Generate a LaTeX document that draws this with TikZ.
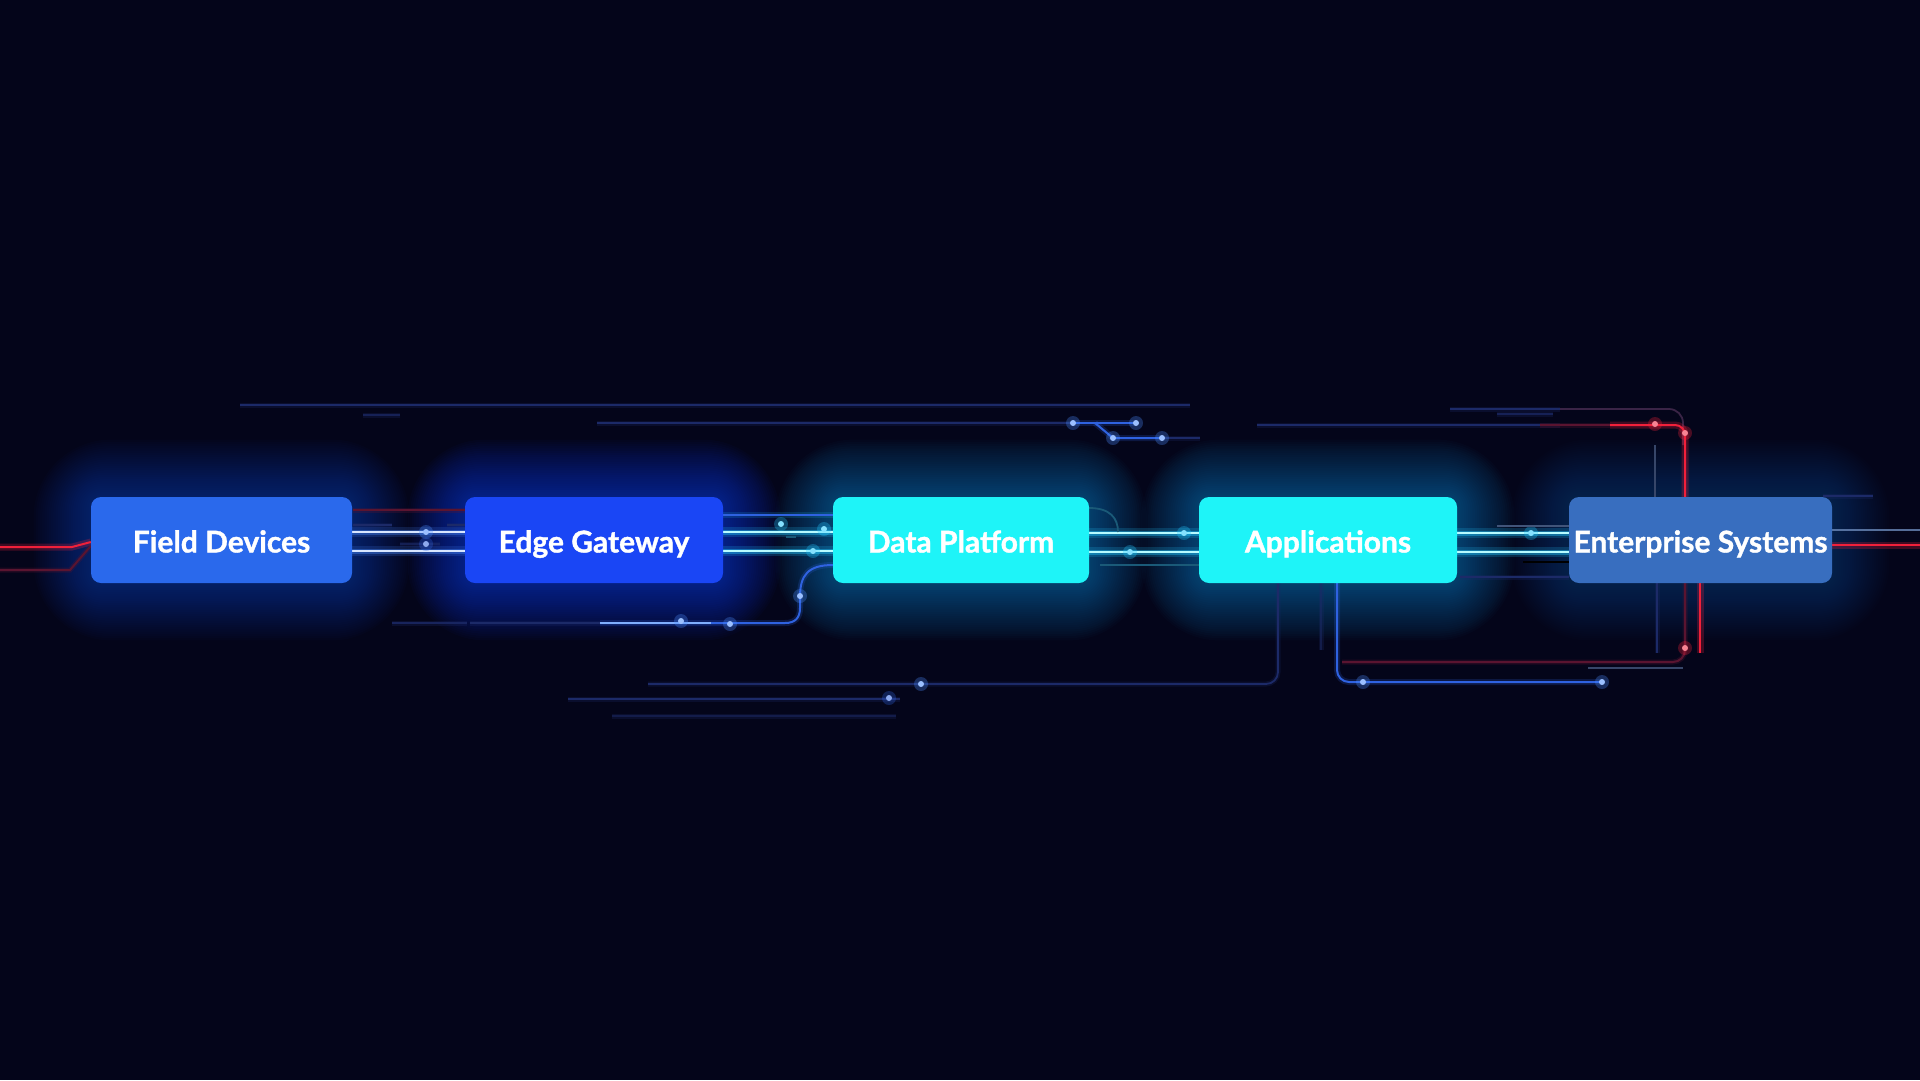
\documentclass[tikz,border=0pt]{standalone}
\usepackage{fontspec}
\setmainfont{Lato}[BoldFeatures={FakeBold=1.2}]
\usetikzlibrary{calc}
\pgfdeclarelayer{bg}
\pgfdeclarelayer{glow}
\pgfdeclarelayer{lines}
\pgfsetlayers{bg,glow,lines,main}
\definecolor{bgc}{HTML}{04051A}
\definecolor{fdc}{HTML}{2A69EC}
\definecolor{egc}{HTML}{1A46F5}
\definecolor{dpc}{HTML}{1EF4F8}
\definecolor{apc}{HTML}{1EF4F8}
\definecolor{esc}{HTML}{386EBF}
\definecolor{dimblue}{HTML}{1C2A68}
\definecolor{midblue}{HTML}{2F62E0}
\definecolor{brblue}{HTML}{4A8CFF}
\definecolor{redc}{HTML}{F0203A}
\definecolor{dimredc}{HTML}{5A1430}
\definecolor{corew}{HTML}{D8E6FF}
\definecolor{cyang}{HTML}{22C8FF}
\definecolor{corec}{HTML}{B8FBFF}
\definecolor{pinkdim}{HTML}{3A2446}
\definecolor{greyblue}{HTML}{6A88B8}
\definecolor{dimcyan}{HTML}{1A5A78}
\tikzset{
  box/.style={rounded corners=10pt, minimum width=#1, minimum height=86pt, inner sep=0pt,
    text=white, font=\fontsize{30}{36}\selectfont\bfseries, text height=25pt, text depth=0pt},
  faint/.style={draw=dimblue, line width=1.8pt, preaction={draw=dimblue, line width=5pt, opacity=0.25}},
  bluetrace/.style={draw=midblue, line width=2pt, preaction={draw=midblue, line width=6pt, opacity=0.2}},
  redtrace/.style={draw=redc, line width=2pt, preaction={draw=redc, line width=7pt, opacity=0.25}},
  dimred/.style={draw=dimredc, line width=2pt, preaction={draw=dimredc, line width=5pt, opacity=0.3}},
  bl/.style={draw=corew, line width=2.4pt, preaction={draw=brblue, line width=10pt, opacity=0.16}, preaction={draw=brblue, line width=5pt, opacity=0.35}},
  cl/.style={draw=corec, line width=2.4pt, preaction={draw=cyang, line width=10pt, opacity=0.18}, preaction={draw=cyang, line width=5pt, opacity=0.38}}
}
\newcommand\gdot[3]{\fill[#3, opacity=0.3] (#1,#2) circle (7pt); \fill[#3!55!white] (#1,#2) circle (3pt);}
\newcommand\boxglow[3]{\foreach \i in {1,...,26}{\fill[#2, opacity=#3, rounded corners=10pt+\i*2.6pt] ($(#1.south west)+(-\i*2.2pt,-\i*2.2pt)$) rectangle ($(#1.north east)+(\i*2.2pt,\i*2.2pt)$);}}
\begin{document}
\begin{tikzpicture}[x=1pt,y=-1pt]
\useasboundingbox (0,0) rectangle (1920,1080);
\begin{pgfonlayer}{bg}
\fill[bgc] (0,0) rectangle (1920,1080);
\end{pgfonlayer}

% boxes
\node[box=261pt, fill=fdc] (fd) at (221.5,540) {Field Devices};
\node[box=258pt, fill=egc] (eg) at (594,540) {Edge Gateway};
\node[box=256pt, fill=dpc] (dp) at (961,540) {Data Platform};
\node[box=258pt, fill=apc] (ap) at (1328,540) {Applications};
\node[box=263pt, fill=esc] (es) at (1700.5,540) {Enterprise Systems};

\begin{pgfonlayer}{glow}
\boxglow{fd}{fdc}{0.02}
\boxglow{eg}{egc}{0.028}
\boxglow{dp}{dpc!70!blue}{0.02}
\boxglow{ap}{apc!70!blue}{0.02}
\boxglow{es}{esc}{0.017}
\end{pgfonlayer}

\begin{pgfonlayer}{lines}
% top traces
\draw[faint] (240,405) -- (1190,405);
\draw[faint, opacity=0.7] (363,415) -- (400,415);
\draw[faint] (597,423) -- (1073,423);
\draw[bluetrace] (1073,423) -- (1136,423);
\draw[bluetrace] (1095,423) -- (1113,438) -- (1160,438);
\draw[faint] (1160,438) -- (1200,438);
\gdot{1073}{423}{brblue}
\gdot{1136}{423}{brblue}
\gdot{1113}{438}{brblue}
\gdot{1162}{438}{brblue}
\draw[faint] (1257,425) -- (1560,425);
\draw[faint] (1450,409) -- (1560,409);
\draw[draw=pinkdim, line width=1.8pt, rounded corners=14pt] (1560,409) -- (1683,409) -- (1683,445);
\draw[faint, opacity=0.7] (1497,414) -- (1553,414);
\draw[dimred] (1540,425) -- (1610,425);
\draw[redtrace, rounded corners=10pt] (1610,425) -- (1685,425) -- (1685,497);
\gdot{1655}{424}{redc}
\gdot{1685}{433}{redc}
\draw[draw=greyblue!50!bgc, line width=1.8pt] (1655,445) -- (1655,497);

% left red
\coordinate (lft) at (0,547);
\coordinate (lft2) at (0,570);
\draw[redtrace] (lft) -- (72,547) -- ([yshift=-2pt]fd.west);
\draw[dimred] (lft2) -- (70,570) -- ([yshift=-6pt]fd.west);

% bright connectors
\draw[bl] ([yshift=8pt]fd.east) -- ([yshift=8pt]eg.west);
\draw[bl] ([yshift=-11pt]fd.east) -- ([yshift=-11pt]eg.west);
\draw[cl] ([yshift=8pt]eg.east) -- ([yshift=8pt]dp.west);
\draw[cl] ([yshift=-11pt]eg.east) -- ([yshift=-11pt]dp.west);
\draw[cl] ([yshift=7pt]dp.east) -- ([yshift=7pt]ap.west);
\draw[cl] ([yshift=-12pt]dp.east) -- ([yshift=-12pt]ap.west);
\draw[cl] ([yshift=7pt]ap.east) -- ([yshift=7pt]es.west);
\draw[cl] ([yshift=-12pt]ap.east) -- ([yshift=-12pt]es.west);

% extras between field and edge
\draw[dimred] (353,510) -- (465,510);
\draw[faint] (353,525) -- (392,525);
\draw[faint] (447,525) -- (465,525);
\draw[faint, opacity=0.6] (400,544) -- (440,544);
\gdot{426}{532}{brblue}
\gdot{426}{544}{midblue}
% edge to data
\draw[draw=midblue, line width=2pt, preaction={draw=cyang, line width=6pt, opacity=0.15}] (723,515) -- (833,515);
\gdot{781}{524}{cyang}
\gdot{824}{529}{cyang}
\gdot{813}{551}{cyang}
\draw[draw=dimcyan, line width=1.8pt] (786,537) -- (796,537);
% data to apps
\gdot{1184}{533}{cyang}
\gdot{1130}{552}{cyang}
\draw[draw=dimcyan, line width=1.8pt] (1100,565) -- (1199,565);
\draw[draw=dimcyan, line width=1.8pt] (1089,508) .. controls (1110,508) and (1118,518) .. (1118,532);
% apps to enterprise
\gdot{1531}{533}{cyang}
\draw[draw=greyblue!60!bgc, line width=1.8pt] (1497,526) -- (1569,526);
\draw[draw=pinkdim!150, line width=1.8pt] (1523,562) -- (1569,562);
\draw[faint] (1460,577) -- (1569,577);
% right of enterprise
\coordinate (rgt) at (1920,545);
\coordinate (rgt2) at (1920,530);
\draw[redtrace] ([yshift=-5pt]es.east) -- (rgt);
\draw[draw=greyblue, line width=2pt, opacity=0.8] ([yshift=10pt]es.east) -- (rgt2);
\draw[faint] (1823,496) -- (1873,496);

% lower traces
\draw[bluetrace] (833,565) .. controls (808,565) and (800,575) .. (800,597) -- (800,608) .. controls (800,618) and (795,623) .. (785,623) -- (600,623);
\draw[draw=brblue!70!white, line width=1.5pt] (600,623) -- (711,623);
\draw[faint] (600,623) -- (470,623);
\draw[faint, opacity=0.8] (392,623) -- (467,623);
\gdot{681}{621}{brblue}
\gdot{730}{624}{brblue}
\gdot{800}{596}{brblue}
\draw[faint, rounded corners=12pt] (1278,583) -- (1278,684) -- (648,684);
\gdot{921}{684}{brblue}
\draw[faint, opacity=0.5] (1321,583) -- (1321,650);
\draw[bluetrace, rounded corners=12pt] (1337,583) -- (1337,682) -- (1602,682);
\gdot{1363}{682}{brblue}
\gdot{1602}{682}{brblue}
\draw[faint] (568,699) -- (900,699);
\gdot{889}{698}{midblue}
\draw[faint, opacity=0.5] (612,716) -- (896,716);
\draw[redtrace] (1700,583) -- (1700,653);
\draw[dimred, rounded corners=12pt] (1685,583) -- (1685,662) -- (1342,662);
\gdot{1685}{648}{redc}
\draw[draw=greyblue!50!bgc, line width=1.8pt] (1588,668) -- (1683,668);
\draw[faint] (1657,583) -- (1657,653);
\end{pgfonlayer}
\end{tikzpicture}
\end{document}
